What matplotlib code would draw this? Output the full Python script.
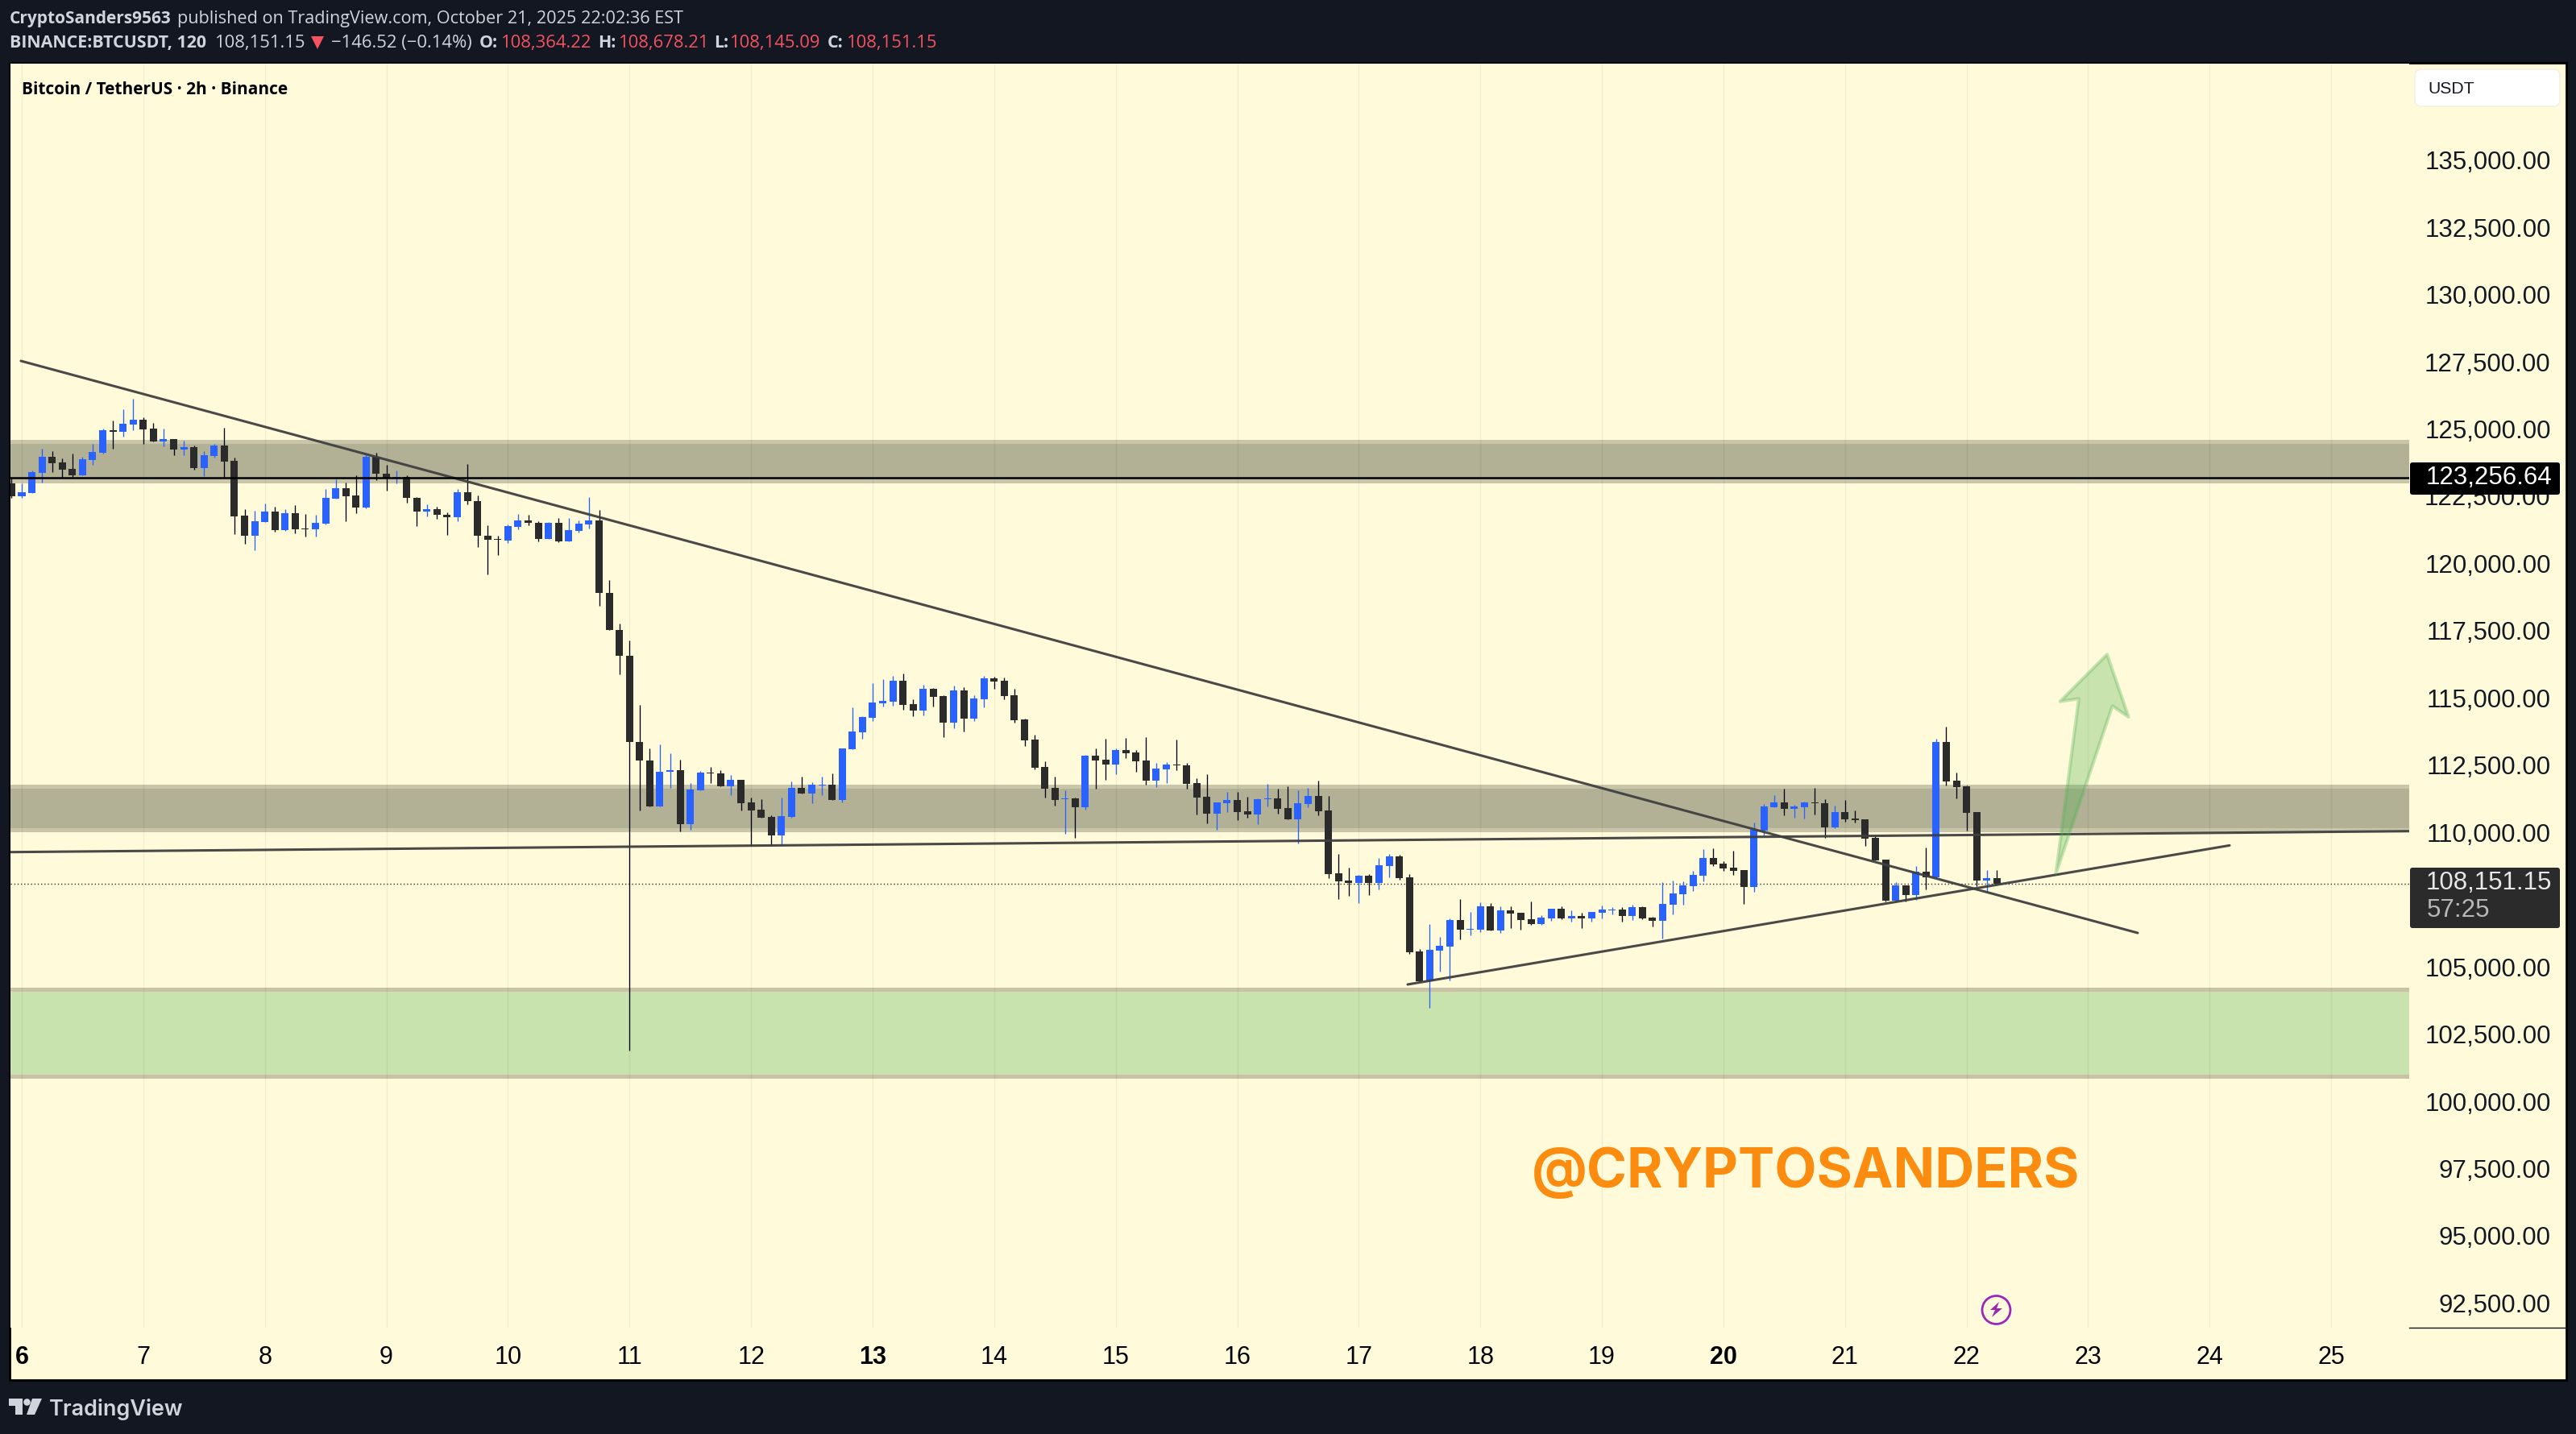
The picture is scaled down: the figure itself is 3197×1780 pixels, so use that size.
import numpy as np
import matplotlib
matplotlib.use('Agg')
import matplotlib.pyplot as plt
from matplotlib.patches import Rectangle, Polygon, Circle, FancyBboxPatch

# BTCUSDT 2h candles. First candle is the one before day 6 00:00
opens = [123060,
    122580, 122690, 123440, 124040, 123830, 123600, 123360, 123920, 124190, 125030,
    124970, 125240, 125420, 125090, 124610, 124700, 124310, 124400, 123620, 124070,
    124460, 123900, 121850, 121110, 121610, 122000, 121320, 121950, 121370, 121350,
    121560, 122490, 122870, 122600, 122150, 124040, 123410, 123230, 123280, 122510,
    122000, 122100, 121890, 121800, 122730, 122390, 121110, 120980, 120930, 121430,
    121670, 121580, 120980, 121580, 120890, 121280, 121520, 121670, 118980, 117600,
    116640, 113440, 112750, 111050, 112320, 112380, 110370, 111640, 112290, 112260,
    111780, 112020, 111180, 110910, 110640, 109950, 110640, 111720, 111510, 111820,
    111840, 111270, 113160, 113790, 114330, 114870, 114930, 115710, 114840, 114600,
    115410, 115140, 114150, 115350, 114300, 115020, 115800, 115710, 115170, 114270,
    113520, 112500, 111720, 111300, 111330, 111000, 112920, 112770, 112590, 113130,
    113040, 112740, 111990, 112410, 112590, 112560, 111900, 111390, 110760, 111160,
    111280, 110860, 110740, 111310, 111340, 110980, 110560, 111130, 111430, 110890,
    108550, 108280, 108190, 108460, 108190, 108820, 109180, 108400, 105640, 104530,
    105670, 105820, 106810, 106450, 106450, 107320, 106420, 107170, 107080, 106840,
    106660, 106870, 107230, 106870, 106960, 106870, 107080, 107180, 107200, 106960,
    107290, 106900, 106780, 107380, 107770, 108070, 108460, 109120, 108910, 108760,
    108670, 108040, 110140, 111010, 111190, 110950, 111010, 111190, 111160, 110260,
    110830, 110580, 110550, 109860, 109050, 107520, 108090, 107730, 108600, 108390,
    113430, 111990, 111780, 110820, 108270, 108364.22]
highs = [123260,
    123060, 123540, 124340, 124250, 123990, 124160, 124040, 124530, 125090, 125390,
    125810, 126200, 125520, 125310, 125090, 124700, 124640, 124460, 124250, 124530,
    125120, 124010, 122100, 122040, 122300, 122190, 122100, 122240, 121910, 121890,
    122840, 123210, 123080, 123340, 124160, 124190, 123750, 123530, 123340, 122540,
    122280, 122190, 121970, 122840, 123770, 122600, 121500, 121110, 121520, 121910,
    121890, 121650, 121610, 121760, 121760, 121670, 122540, 122060, 119460, 117850,
    117210, 114810, 113190, 113340, 113010, 112770, 111900, 112350, 112500, 112380,
    112200, 112020, 111360, 111300, 110700, 111360, 111960, 112140, 111930, 112140,
    112260, 113190, 114720, 114390, 115620, 115770, 115890, 115980, 115020, 115560,
    115440, 115170, 115530, 115470, 115170, 115890, 115860, 115830, 115410, 114300,
    113700, 112710, 112140, 111630, 111360, 112950, 113190, 113550, 113190, 113580,
    113130, 113610, 112650, 112680, 113520, 112650, 112080, 112230, 111190, 111580,
    111580, 111400, 111340, 111880, 111700, 111790, 111640, 111730, 112000, 111430,
    109270, 108760, 108490, 108520, 109120, 109270, 109240, 108520, 105730, 106660,
    106180, 106870, 107590, 107110, 107470, 107440, 107320, 107320, 107080, 107500,
    106990, 107230, 107320, 107170, 107080, 107110, 107350, 107290, 107290, 107380,
    107320, 106930, 108220, 108280, 108250, 108640, 109450, 109480, 109000, 109390,
    108670, 110440, 111130, 111460, 111700, 111100, 111220, 111730, 111310, 111070,
    111280, 110880, 110550, 109920, 109050, 108210, 108090, 108810, 109500, 113550,
    114000, 112290, 111810, 110820, 108660, 108678.21]
lows = [122520,
    122500, 122690, 123090, 123470, 123260, 123290, 123360, 123750, 124160, 124340,
    124790, 125030, 124530, 124610, 124430, 124100, 124100, 123560, 123320, 124010,
    123260, 121170, 120810, 120570, 121610, 121260, 121280, 121200, 121070, 121070,
    121520, 122490, 121650, 121950, 122130, 123170, 122780, 123060, 122340, 121460,
    121820, 121740, 121130, 121650, 122280, 120690, 119660, 120390, 120830, 121350,
    121500, 120890, 120980, 120870, 120890, 121220, 121370, 118500, 117600, 115950,
    101960, 110880, 111030, 111050, 111720, 110100, 110160, 111630, 111900, 111780,
    111450, 110880, 109560, 110610, 109560, 109590, 110610, 111510, 111150, 111450,
    111270, 111180, 113160, 113550, 114210, 114750, 114780, 114630, 114390, 114420,
    114750, 113610, 113940, 113820, 114210, 114720, 115410, 115020, 114150, 113280,
    112410, 111360, 111060, 110010, 109860, 110910, 111690, 112020, 112230, 112830,
    112320, 111840, 111750, 111900, 112380, 111690, 110730, 110400, 110170, 110830,
    110530, 110620, 110380, 111040, 110770, 110560, 109660, 111010, 110710, 108370,
    107590, 107710, 107440, 107740, 107950, 108400, 108310, 105550, 104530, 103540,
    104890, 104560, 106090, 106240, 106360, 106420, 106330, 106510, 106450, 106630,
    106630, 106780, 106850, 106750, 106510, 106750, 106870, 107020, 106750, 106810,
    106840, 106570, 106120, 107020, 107380, 107890, 108250, 108820, 108640, 108490,
    107410, 107860, 109960, 111010, 110710, 110620, 110590, 110740, 109870, 110230,
    110470, 110430, 109560, 109020, 107490, 107490, 107490, 107570, 107940, 108390,
    111810, 111330, 110130, 108060, 107850, 108145.09]
closes = [122580,
    122730, 123470, 124040, 123800, 123560, 123360, 123950, 124220, 125030, 124970,
    125270, 125420, 125060, 124610, 124700, 124310, 124400, 123620, 124100, 124460,
    123860, 121820, 121110, 121650, 122000, 121320, 121950, 121350, 121350, 121580,
    122510, 122870, 122580, 122150, 124040, 123410, 123230, 123280, 122510, 122000,
    122100, 121890, 121800, 122730, 122390, 121110, 120960, 120960, 121460, 121670,
    121580, 120980, 121580, 120890, 121320, 121560, 121670, 118980, 117600, 116640,
    113440, 112750, 111050, 112320, 112380, 110370, 111660, 112290, 112260, 111780,
    112020, 111150, 110880, 110610, 109950, 110670, 111720, 111510, 111840, 111840,
    111270, 113190, 113820, 114360, 114900, 114960, 115710, 114810, 114600, 115410,
    115110, 114150, 115350, 114300, 115050, 115800, 115680, 115140, 114240, 113490,
    112470, 111690, 111270, 111330, 111000, 112920, 112740, 112590, 113130, 113010,
    112710, 111990, 112440, 112590, 112560, 111870, 111360, 110760, 111190, 111280,
    110830, 110740, 111310, 111340, 110950, 110560, 111160, 111430, 110860, 108520,
    108250, 108190, 108460, 108190, 108850, 109180, 108370, 105610, 104530, 105700,
    105850, 106810, 106450, 106480, 107320, 106420, 107170, 107050, 106810, 106660,
    106900, 107230, 106870, 106960, 106870, 107110, 107200, 107200, 106960, 107290,
    106870, 106780, 107410, 107800, 108100, 108490, 109120, 108880, 108730, 108640,
    108040, 110170, 111040, 111190, 110950, 111040, 111190, 111160, 110260, 110830,
    110560, 110520, 109830, 109020, 107520, 108090, 107730, 108600, 108390, 113430,
    111960, 111750, 110790, 108270, 108360, 108151.15]

last_close = 108151.15
alert_line = 123256.64

# drawings, (day, price)
downtrend_days = [5.993, 23.408]
downtrend_prices = [127606, 106336]
support_days = [5.90, 25.64]
support_prices = [109341, 110120]
uptrend_days = [17.402, 24.164]
uptrend_prices = [104419, 109590]
arrow_days = [22.736, 22.924, 22.770, 23.156, 23.333, 23.200]
arrow_prices = [108553, 115045, 114943, 116693, 114365, 114775]

# zones (low, high)
zone_top = (123134, 124599)
zone_mid = (110165, 111803)
zone_green = (100989, 104236)

price_ticks = [92500, 95000, 97500, 100000, 102500, 105000, 110000, 112500, 115000,
               117500, 120000, 122500, 125000, 127500, 130000, 132500, 135000]
day_ticks = list(range(6, 26))
bold_days = [6, 13, 20]

W, H = 3197, 1781
BG = '#131722'
PANEL = '#fffad9'
DARK = '#2b2b2b'
BLUE = '#2962ff'
GREY = '#d1d4dc'
RED = '#f7525f'
SANS = 'Liberation Sans'
HEAD = 'Open Sans'

fig = plt.figure(figsize=(W / 100, H / 100), dpi=100, facecolor=BG)


def pixel_axes(z):
    a = fig.add_axes([0, 0, 1, 1], zorder=z)
    a.set_xlim(0, W)
    a.set_ylim(H, 0)
    a.axis('off')
    a.patch.set_alpha(0)
    return a


back = pixel_axes(0)
back.add_patch(Rectangle((12, 79), 3173, 1635, facecolor=PANEL, edgecolor='black', linewidth=2))

# main pane, 13..2990 by 80..1649 px
ax = fig.add_axes([13 / W, 1 - 1649 / H, (2990 - 13) / W, (1649 - 80) / H], zorder=1)
ax.set_facecolor(PANEL)
ax.set_xlim(5.9072, 25.642)
ax.set_ylim(91657, 138661)
for s in ax.spines.values():
    s.set_visible(False)

ax.set_xticks(day_ticks)
ax.set_xticklabels([str(d) for d in day_ticks], fontsize=22, family=SANS, color='black')
for lab, d in zip(ax.get_xticklabels(), day_ticks):
    if d in bold_days:
        lab.set_fontweight('bold')
ax.yaxis.tick_right()
ax.set_yticks(price_ticks)
ax.set_yticklabels([f'{p:,.2f}' for p in price_ticks], fontsize=22.5, family=SANS, color='#131722',
                   ha='right', va='center')
ax.tick_params(axis='y', length=0, pad=126.5)
ax.tick_params(axis='x', length=0, pad=15)
ax.set_axisbelow(False)
ax.grid(axis='x', color='black', alpha=0.05, linewidth=1)

# zones
for (lo, hi), face, edge in [(zone_top, '#b2b095', '#c9c5a8'),
                             (zone_mid, '#b2b095', '#c9c5a8'),
                             (zone_green, '#c9e3ae', '#c9c2a5')]:
    ax.add_patch(Rectangle((5.5, lo), 21, hi - lo, facecolor=face, edgecolor=edge, linewidth=3.6, zorder=2))

# candles
opens = np.array(opens)
highs = np.array(highs)
lows = np.array(lows)
closes = np.array(closes)
times = 6 + (np.arange(len(opens)) - 1) / 12
up = closes >= opens
ax.vlines(times[up], lows[up], highs[up], color=BLUE, linewidth=0.95, zorder=3)
ax.vlines(times[~up], lows[~up], highs[~up], color='black', linewidth=0.95, zorder=3)
bottoms = np.minimum(opens, closes)
heights = np.abs(closes - opens)
ax.bar(times[up], heights[up], bottom=bottoms[up], width=0.0597, color=BLUE, zorder=3.5)
ax.bar(times[~up], heights[~up], bottom=bottoms[~up], width=0.0597, color=DARK, zorder=3.5)

# trend lines etc.
line_style = dict(color='#3f3f3f', linewidth=2.2, alpha=0.95, zorder=5, solid_capstyle='round')
ax.plot(downtrend_days, downtrend_prices, **line_style)
ax.plot(support_days, support_prices, **line_style)
ax.plot(uptrend_days, uptrend_prices, **line_style)
ax.axhline(alert_line, color='black', linewidth=1.8, zorder=5)
ax.axhline(last_close, color=DARK, linewidth=1, linestyle=(0, (1, 2)), zorder=2.8)
ax.add_patch(Polygon(np.column_stack([arrow_days, arrow_prices]), closed=True,
                     facecolor=(0.30, 0.69, 0.31, 0.30), edgecolor=(0.30, 0.69, 0.31, 0.30),
                     linewidth=3, joinstyle='round', zorder=6))
ax.text(20.674, 97440, '@CRYPTOSANDERS', color='#fb8c0f', fontsize=48.8,
        family='Inter', fontweight='bold', ha='center', va='center', zorder=6)

# top layer: header, badges, footer
top = pixel_axes(2)
top.plot([2990, 3185], [1649, 1649], color='#131722', linewidth=1)


def head(x, y, s, color=GREY, weight='normal', size=15.8):
    top.text(x, y, s, color=color, fontsize=size, fontweight=weight, family=HEAD, va='baseline', ha='left')


head(12, 29, 'CryptoSanders9563', weight='bold', size=15)
head(220, 29, 'published on TradingView.com, October 21, 2025 22:02:36 EST', size=15.6)
head(12, 59, 'BINANCE:BTCUSDT, 120', weight='bold', size=15.4)
head(266, 59, '108,151.15')
top.add_patch(Polygon([(386, 46), (402, 46), (394, 62)], closed=True, facecolor=RED, edgecolor='none'))
head(411, 59, '\u2212146.52 (\u22120.14%)')
for x, s in [(595, 'O:'), (742, 'H:'), (886, 'L:'), (1027, 'C:')]:
    head(x, 59, s, weight='bold', size=15.4)
for x, s in [(621, '108,364.22'), (767, '108,678.21'), (905, '108,145.09'), (1050, '108,151.15')]:
    head(x, 59, s, color=RED)
head(27, 117, 'Bitcoin / TetherUS \u00b7 2h \u00b7 Binance', color='black', weight='bold', size=15)

top.add_patch(FancyBboxPatch((3003, 93), 168, 34, boxstyle='round,pad=6,rounding_size=8',
                             facecolor='white', edgecolor='#f2efe0', linewidth=1))
top.text(3013, 110, 'USDT', fontsize=15.2, family=SANS, color='#131722', va='center', ha='left')

top.add_patch(FancyBboxPatch((2991, 575), 186, 40, boxstyle='round,pad=0,rounding_size=3',
                             facecolor='black', edgecolor='none'))
top.text(3167, 593, f'{alert_line:,.2f}', fontsize=22.5, family=SANS, color='white', va='center', ha='right')
top.add_patch(FancyBboxPatch((2991, 1078), 186, 75, boxstyle='round,pad=0,rounding_size=3',
                             facecolor=DARK, edgecolor='none'))
top.text(3167, 1096, f'{last_close:,.2f}', fontsize=22.5, family=SANS, color='#e8e8e8', va='center', ha='right')
top.text(3012, 1130, '57:25', fontsize=22.5, family=SANS, color='#b8b8b8', va='center', ha='left')

# lightning badge
top.add_patch(Circle((2477.5, 1627), 20, facecolor='white', edgecolor='none'))
top.add_patch(Circle((2477.5, 1627), 17.5, facecolor=PANEL, edgecolor='#9c27b0', linewidth=2))
top.add_patch(Polygon([(2481, 1617), (2470, 1627), (2476, 1627), (2472, 1636), (2485, 1625), (2478, 1625)],
                      closed=True, facecolor='#9c27b0', edgecolor='none'))

# TradingView logo
top.add_patch(Polygon([(11, 1737), (28, 1737), (28, 1757), (19, 1757), (19, 1746), (11, 1746)],
                      closed=True, facecolor=GREY, edgecolor='none'))
top.add_patch(Circle((33.5, 1741.5), 4.3, facecolor=GREY, edgecolor='none'))
top.add_patch(Polygon([(40, 1737), (52, 1737), (43, 1757), (33, 1757)], closed=True,
                      facecolor=GREY, edgecolor='none'))
top.text(61, 1757, 'TradingView', fontsize=19.4, family='Inter', fontweight='semibold', color=GREY,
         va='baseline', ha='left')

fig.savefig('out.png', dpi=100, facecolor=BG)
